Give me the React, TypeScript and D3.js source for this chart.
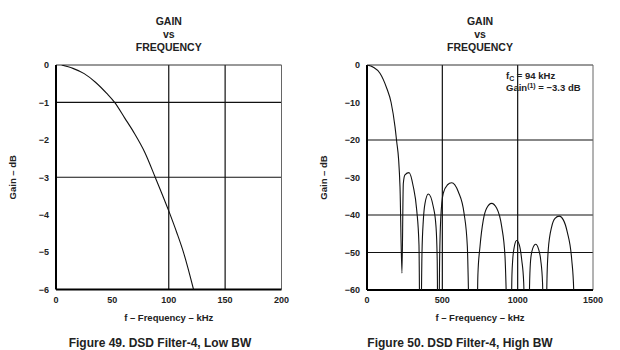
import React from "react";
import * as d3 from "d3";

// Figure 49: low BW, passband only (kHz, dB)
const lowFreq = [5, 15, 25, 35, 45, 52, 61, 69, 79, 88, 100, 107, 113, 122];
const lowGain = [0, -0.09, -0.23, -0.46, -0.76, -1.0, -1.42, -1.8, -2.35, -3.0, -3.9, -4.47, -5.0, -6.0];

// Figure 50: high BW, main lobe + side lobes (kHz, dB), nulls go below the -60 floor
const hiFreq = [
  0, 42, 86, 131, 160, 186, 197, 210, 219, 232,
  241, 252, 279, 307, 330, 345, 352,
  356, 365, 374, 385, 407, 440, 458, 466, 471,
  476, 482, 489, 506, 533, 562, 606, 644, 666, 684,
  728, 736, 750, 772, 794, 827, 861, 894, 916, 938,
  954, 962, 967, 978, 993, 1011, 1027, 1040, 1052,
  1071, 1080, 1086, 1100, 1120, 1137, 1153, 1165, 1175,
  1188, 1194, 1203, 1226, 1248, 1276, 1303, 1329, 1359, 1372, 1380,
];
const hiGain = [
  0, -0.6, -2.2, -6.2, -10, -16.5, -20.4, -25.3, -32.4, -55.5,
  -31.6, -29.3, -28.7, -32.4, -38.7, -48, -75,
  -75, -50, -41.3, -36.9, -34.4, -37.8, -43.1, -52, -75,
  -75, -52, -41.3, -34.2, -32, -31.4, -33.8, -39.5, -48.4, -75,
  -75, -56, -48.4, -41.3, -38.2, -36.9, -38.2, -43.1, -51.1, -75,
  -75, -56, -52, -48.4, -46.8, -48, -52, -58, -75,
  -75, -57, -52, -48.9, -47.8, -48.9, -52, -58, -75,
  -75, -58, -49.3, -43.1, -40.9, -40.3, -41.3, -44.5, -52, -60, -75,
];

const lowXTicks = [0, 50, 100, 150, 200];
const lowYTicks = [0, -1, -2, -3, -4, -5, -6];
const lowXGrid = [100, 150];
const lowYGrid = [-1, -3];

const hiXTicks = [0, 500, 1000, 1500];
const hiYTicks = [0, -10, -20, -30, -40, -50, -60];
const hiXGrid = [500, 1000];
const hiYGrid = [-20, -40, -50];

const titleLines = ["GAIN", "vs", "FREQUENCY"];
const captions = ["Figure 49. DSD Filter-4, Low BW", "Figure 50. DSD Filter-4, High BW"];

const FONT = "'Liberation Sans', Arial, sans-serif";
const fmtY = (d: number) => (d === 0 ? "0" : "\u2212" + Math.abs(d));

const Panel = ({id, xs, ys, xt, yt, xg, yg, fx, fy, caption, capX}: any) => {
  const [x0, x1] = xs.range();
  const [y0, y1] = ys.range();
  const cx = (x0 + x1) / 2;
  const pts = fx.map((f: number, i: number) => [f, fy[i]]);
  const line = d3.line<any>()
    .x(d => xs(d[0]))
    .y(d => ys(d[1]))
    .curve(d3.curveMonotoneX);
  return (
    <g fontFamily={FONT}>
      <defs>
        <clipPath id={id}>
          <rect x={x0} y={y0} width={x1 - x0} height={y1 - y0}/>
        </clipPath>
      </defs>
      {titleLines.map((t, i) => (
        <text key={t} x={cx} y={25 + i * 13} textAnchor="middle" fontSize={10.5} fontWeight="bold" fill="#222">{t}</text>
      ))}
      {xg.map((v: number) => (
        <line key={"xg" + v} x1={xs(v)} x2={xs(v)} y1={y0} y2={y1} stroke="#111" strokeWidth={1.2}/>
      ))}
      {yg.map((v: number) => (
        <line key={"yg" + v} x1={x0} x2={x1} y1={ys(v)} y2={ys(v)} stroke="#111" strokeWidth={1.2}/>
      ))}
      <line x1={x0} x2={x1} y1={y0} y2={y0} stroke="#333" strokeWidth={1}/>
      <line x1={x1} x2={x1} y1={y0} y2={y1} stroke="#666" strokeWidth={1}/>
      <line x1={x0} x2={x0} y1={y0} y2={y1} stroke="#000" strokeWidth={2}/>
      <line x1={x0} x2={x1} y1={y1} y2={y1} stroke="#000" strokeWidth={2}/>
      <path d={line(pts) || ""} fill="none" stroke="#111" strokeWidth={1.1} clipPath={`url(#${id})`}/>
      {yt.map((v: number) => (
        <text key={"yt" + v} x={x0 - 7} y={ys(v) + 3.3} textAnchor="end" fontSize={9} fontWeight="bold" fill="#222">{fmtY(v)}</text>
      ))}
      {xt.map((v: number) => (
        <text key={"xt" + v} x={xs(v)} y={303} textAnchor="middle" fontSize={9} fontWeight="bold" fill="#222">{v}</text>
      ))}
      <text x={cx} y={321} textAnchor="middle" fontSize={9.5} fill="#222" fontWeight="bold">f – Frequency – kHz</text>
      <text transform={`translate(${x0 - 40},${(y0 + y1) / 2}) rotate(-90)`} textAnchor="middle" fontSize={9.5} fontWeight="bold" fill="#222">Gain – dB</text>
      <text x={capX} y={347} textAnchor="middle" fontSize={12} fontWeight="bold" fill="#222">{caption}</text>
    </g>
  );
};

const App = () => {
  const lowX = d3.scaleLinear().domain([0, 200]).range([56, 281.5]);
  const lowY = d3.scaleLinear().domain([0, -6]).range([65, 289.5]);
  const hiX = d3.scaleLinear().domain([0, 1500]).range([367, 593]);
  const hiY = d3.scaleLinear().domain([0, -60]).range([65, 290]);

  return (
    <svg width={620} height={350} style={{position: "absolute", left: 0, top: 0, background: "#fff"}}>
      <Panel id="clipLow" xs={lowX} ys={lowY} xt={lowXTicks} yt={lowYTicks} xg={lowXGrid} yg={lowYGrid}
             fx={lowFreq} fy={lowGain} caption={captions[0]} capX={160}/>
      <Panel id="clipHi" xs={hiX} ys={hiY} xt={hiXTicks} yt={hiYTicks} xg={hiXGrid} yg={hiYGrid}
             fx={hiFreq} fy={hiGain} caption={captions[1]} capX={460}/>
      <g fontFamily={FONT} fontSize={9.5} fontWeight="bold" fill="#222">
        <text x={506} y={79}>f<tspan fontSize={7} dy={2}>C</tspan><tspan dy={-2}> = 94 kHz</tspan></text>
        <text x={506} y={91}>Gain<tspan fontSize={7} dy={-3}>(1)</tspan><tspan dy={3}> = −3.3 dB</tspan></text>
      </g>
    </svg>
  );
};

export default App;
